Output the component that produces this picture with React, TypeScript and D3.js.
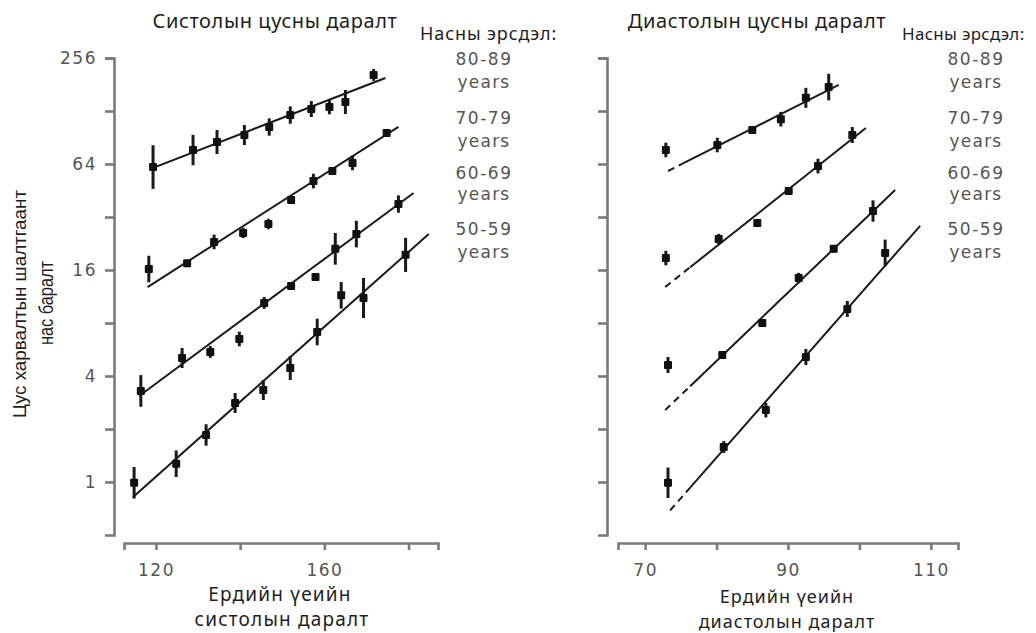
import React, { useEffect, useRef } from "react";
import * as d3 from "d3";

// ---------- data ----------
const ageGroups = ["80-89", "70-79", "60-69", "50-59"];
const yTickValues = [1, 2, 4, 8, 16, 32, 64, 128, 256];
const yTickLabels = [256, 64, 16, 4, 1];

// Systolic panel
const sysX80 = [119.3, 128.8, 134.5, 141, 146.9, 151.9, 156.9, 161.2, 165, 171.7];
const sysY80 = [61.5, 76.8, 85.3, 93.5, 103.8, 121.4, 131.3, 134.9, 144, 205];
const sysE80 = [1.33, 1.22, 1.17, 1.14, 1.12, 1.12, 1.11, 1.1, 1.17, 1.08];
const sysFit80 = [119.3, 60.8, 174.5, 197];

const sysX70 = [118.3, 127.4, 133.8, 140.7, 146.7, 152.1, 157.4, 161.9, 166.7, 174.8];
const sysY70 = [16.2, 17.5, 23.1, 26.0, 29.2, 40, 51.2, 58.4, 64.9, 96];
const sysE70 = [1.19, 1.03, 1.1, 1.07, 1.07, 1.05, 1.1, 1.05, 1.1, 1.05];
const sysFit70 = [118, 12.8, 177.6, 104];

const sysX60 = [116.4, 126.2, 132.9, 139.8, 145.7, 152.1, 157.9, 162.6, 167.6, 177.6];
const sysY60 = [3.29, 5.06, 5.48, 6.49, 10.4, 13.0, 14.6, 21.1, 25.6, 37.9];
const sysE60 = [1.23, 1.14, 1.08, 1.1, 1.08, 1.05, 1.03, 1.23, 1.19, 1.12];
const sysFit60 = [116, 3.08, 181.2, 43.8];

const sysX50 = [114.8, 124.8, 131.9, 138.8, 145.5, 151.9, 158.3, 164, 169.3, 179.3];
const sysY50 = [0.99, 1.27, 1.85, 2.81, 3.33, 4.44, 7.11, 11.5, 11.1, 19.5];
const sysE50 = [1.23, 1.19, 1.15, 1.14, 1.14, 1.17, 1.19, 1.19, 1.3, 1.25];
const sysFit50 = [114.5, 0.82, 184.8, 25.6];

// Diastolic panel (fit: xStart, yStart, xEnd, yEnd; dashed until diaSolidFrom)
const diaX80 = [72.9, 80.1, 85, 89, 92.5, 95.7];
const diaY80 = [76.9, 82, 99.8, 115, 152, 175];
const diaE80 = [1.1, 1.1, 1.04, 1.1, 1.14, 1.19];
const diaFit80 = [73.2, 58.4, 97.1, 180];

const diaX70 = [72.9, 80.3, 85.7, 90.1, 94.2, 99];
const diaY70 = [18.7, 24, 29.6, 45, 62.3, 93.5];
const diaE70 = [1.1, 1.07, 1.02, 1.04, 1.1, 1.11];
const diaFit70 = [72.8, 12.8, 100.9, 102.6];

const diaX60 = [73.2, 80.8, 86.4, 91.5, 96.4, 101.9];
const diaY60 = [4.62, 5.26, 8, 14.4, 21.1, 34.6];
const diaE60 = [1.11, 1.05, 1.04, 1.07, 1.05, 1.15];
const diaFit60 = [72.8, 2.56, 105, 45.5];

const diaX50 = [73.2, 81, 86.9, 92.5, 98.3, 103.6];
const diaY50 = [0.99, 1.58, 2.56, 5.13, 9.61, 20.0];
const diaE50 = [1.22, 1.08, 1.1, 1.11, 1.11, 1.19];
const diaFit50 = [73.5, 0.69, 108.5, 28.5];

const diaSolidFrom = [75.3, 76.3, 76.3, 76.3];

const sysTicks = [120, 140, 160, 180];
const sysTickLabels = [120, 160];
const diaTicks = [70, 80, 90, 100, 110];
const diaTickLabels = [70, 90, 110];

type Series = { x: number[]; y: number[]; e: number[]; fit: number[] };

const sysSeries: Series[] = [
  { x: sysX80, y: sysY80, e: sysE80, fit: sysFit80 },
  { x: sysX70, y: sysY70, e: sysE70, fit: sysFit70 },
  { x: sysX60, y: sysY60, e: sysE60, fit: sysFit60 },
  { x: sysX50, y: sysY50, e: sysE50, fit: sysFit50 },
];
const diaSeries: Series[] = [
  { x: diaX80, y: diaY80, e: diaE80, fit: diaFit80 },
  { x: diaX70, y: diaY70, e: diaE70, fit: diaFit70 },
  { x: diaX60, y: diaY60, e: diaE60, fit: diaFit60 },
  { x: diaX50, y: diaY50, e: diaE50, fit: diaFit50 },
];

const W = 1036;
const H = 633;
const AXIS_COLOR = "#7a7a7a";
const LABEL_COLOR = "#555";
const TEXT_COLOR = "#1e1e1e";
const NUM_FONT = "'DejaVu Sans', Verdana, sans-serif";
const TXT_FONT = "'Noto Sans', 'Liberation Sans', Arial, sans-serif";

export default function App() {
  const ref = useRef<SVGSVGElement | null>(null);

  useEffect(() => {
    const svg = d3.select(ref.current);
    svg.selectAll("*").remove();

    const y = d3.scaleLog().base(2).domain([0.5, 256]).range([535, 58]);
    const xL = d3.scaleLinear().domain([112.4, 187]).range([124, 438]);
    const xR = d3.scaleLinear().domain([66.2, 113.8]).range([618, 958]);

    const styleAxis = (g: any) => {
      g.selectAll("path.domain").attr("stroke", AXIS_COLOR).attr("stroke-width", 2.6);
      g.selectAll(".tick line").attr("stroke", AXIS_COLOR).attr("stroke-width", 2.6);
      g.selectAll("text")
        .attr("fill", LABEL_COLOR)
        .style("font-family", NUM_FONT)
        .style("font-size", "17px")
        .style("letter-spacing", "1.5px");
    };

    // Y axes
    const yAxisL = d3
      .axisLeft(y)
      .tickValues(yTickValues)
      .tickSize(9)
      .tickSizeOuter(9)
      .tickPadding(8)
      .tickFormat((d: any) => (yTickLabels.includes(d) ? String(d) : ""));
    svg.append("g").attr("transform", "translate(114,0)").call(yAxisL).call(styleAxis);

    const yAxisR = d3
      .axisLeft(y)
      .tickValues(yTickValues)
      .tickSize(9)
      .tickSizeOuter(9)
      .tickFormat(() => "");
    svg.append("g").attr("transform", "translate(607,0)").call(yAxisR).call(styleAxis);

    // X axes
    const xAxisL = d3
      .axisBottom(xL)
      .tickValues(sysTicks)
      .tickSize(7)
      .tickSizeOuter(7)
      .tickPadding(14)
      .tickFormat((d: any) => (sysTickLabels.includes(d) ? String(d) : ""));
    svg.append("g").attr("transform", "translate(0,543)").call(xAxisL).call(styleAxis);

    const xAxisR = d3
      .axisBottom(xR)
      .tickValues(diaTicks)
      .tickSize(7)
      .tickSizeOuter(7)
      .tickPadding(14)
      .tickFormat((d: any) => (diaTickLabels.includes(d) ? String(d) : ""));
    svg.append("g").attr("transform", "translate(0,543)").call(xAxisR).call(styleAxis);

    const fitAt = (fit: number[], xv: number) => {
      const [x0, y0, x1, y1] = fit;
      const t = (xv - x0) / (x1 - x0);
      return Math.exp(Math.log(y0) + (Math.log(y1) - Math.log(y0)) * t);
    };

    const drawSeries = (xs: any, series: Series[], solidFrom: number[] | null) => {
      const g = svg.append("g");
      series.forEach((s, i) => {
        const [x0, y0, x1, y1] = s.fit;
        if (solidFrom) {
          const xm = solidFrom[i];
          const ym = fitAt(s.fit, xm);
          g.append("line")
            .attr("x1", xs(x0)).attr("y1", y(y0))
            .attr("x2", xs(xm)).attr("y2", y(ym))
            .attr("stroke", "#1a1a1a").attr("stroke-width", 2)
            .attr("stroke-dasharray", "7,5");
          g.append("line")
            .attr("x1", xs(xm)).attr("y1", y(ym))
            .attr("x2", xs(x1)).attr("y2", y(y1))
            .attr("stroke", "#1a1a1a").attr("stroke-width", 2);
        } else {
          g.append("line")
            .attr("x1", xs(x0)).attr("y1", y(y0))
            .attr("x2", xs(x1)).attr("y2", y(y1))
            .attr("stroke", "#1a1a1a").attr("stroke-width", 2);
        }
        s.x.forEach((xv, j) => {
          const yv = s.y[j];
          const e = s.e[j];
          g.append("line")
            .attr("x1", xs(xv)).attr("x2", xs(xv))
            .attr("y1", y(yv / e)).attr("y2", y(yv * e))
            .attr("stroke", "#1a1a1a").attr("stroke-width", 3);
          g.append("rect")
            .attr("x", xs(xv) - 4).attr("y", y(yv) - 4)
            .attr("width", 8).attr("height", 8)
            .attr("rx", 1)
            .attr("fill", "#111");
        });
      });
    };

    drawSeries(xL, sysSeries, null);
    drawSeries(xR, diaSeries, diaSolidFrom);

    const text = (x: number, yy: number, s: string, opts: any = {}) => {
      const t = svg
        .append("text")
        .attr("x", x)
        .attr("y", yy)
        .attr("text-anchor", opts.anchor || "middle")
        .attr("fill", opts.fill || TEXT_COLOR)
        .style("font-family", opts.font || TXT_FONT)
        .style("font-size", (opts.size || 18) + "px")
        .text(s);
      if (opts.ls) t.style("letter-spacing", opts.ls + "px");
      if (opts.transform) t.attr("transform", opts.transform);
      if (opts.len) t.attr("textLength", opts.len).attr("lengthAdjust", "spacingAndGlyphs");
      return t;
    };

    // Titles
    text(275, 28, "Систолын цусны даралт", { size: 20, ls: 0.6 });
    text(757, 28, "Диастолын цусны даралт", { size: 20, ls: 0.6 });
    text(420, 40, "Насны эрсдэл:", { size: 18, anchor: "start", ls: 0.9 });
    text(902, 40, "Насны эрсдэл:", { size: 17, anchor: "start", ls: 0.3 });

    // Age legends
    const ageBase = [65, 124, 179, 235];
    const yearsBase = [88, 147, 200, 258];
    ageGroups.forEach((a, i) => {
      [484, 976].forEach((cx) => {
        text(cx, ageBase[i], a, { size: 17, font: NUM_FONT, fill: LABEL_COLOR, ls: 1.5 });
        text(cx, yearsBase[i], "years", { size: 17, font: NUM_FONT, fill: LABEL_COLOR, ls: 1.2 });
      });
    });

    // X titles
    text(280, 601, "Ердийн үеийн", { size: 19, ls: 1.2 });
    text(282, 626, "систолын даралт", { size: 19, ls: 1.2 });
    text(787, 603, "Ердийн үеийн", { size: 18, ls: 1 });
    text(787, 628, "диастолын даралт", { size: 18, ls: 1 });

    // Y title
    text(0, 0, "Цус харвалтын шалтгаант", {
      size: 19,
      font: "'Liberation Sans', Arial, sans-serif",
      transform: "translate(26,304) rotate(-90)",
      len: 228,
    });
    text(0, 0, "нас баралт", {
      size: 20,
      font: "'Liberation Sans', Arial, sans-serif",
      transform: "translate(53,303) rotate(-90)",
      len: 84,
    });
  }, []);

  return (
    <svg
      ref={ref}
      width={W}
      height={H}
      viewBox={`0 0 ${W} ${H}`}
      style={{ position: "absolute", left: 0, top: 0, background: "#fff" }}
    />
  );
}
